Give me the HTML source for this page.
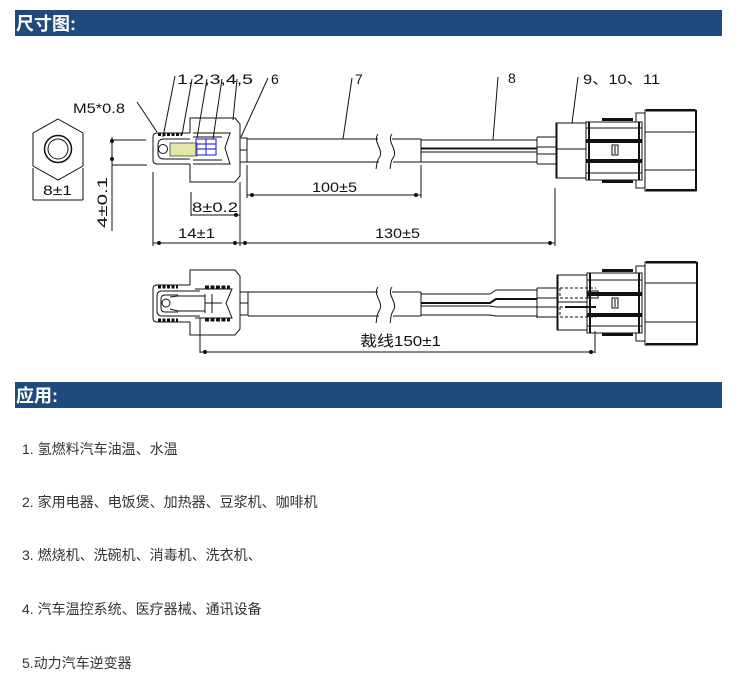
<!DOCTYPE html>
<html><head><meta charset="utf-8"><style>
html,body{margin:0;padding:0;background:#fff;}
svg{display:block;}
.t{font-family:"Liberation Sans","Noto Sans CJK SC",sans-serif;}
</style></head><body>
<svg width="749" height="697" viewBox="0 0 749 697" xmlns="http://www.w3.org/2000/svg">
<rect width="749" height="697" fill="#fff"/>
<!-- headers -->
<rect x="15" y="10" width="707" height="26" fill="#1f4a7c"/>
<text class="t" x="16" y="30" fill="#fff" font-size="18" font-weight="bold">尺寸图:</text>
<rect x="15" y="382" width="707" height="26" fill="#1f4a7c"/>
<text class="t" x="16" y="402" fill="#fff" font-size="18" font-weight="bold">应用:</text>

<!-- list -->
<g class="t" font-size="14" fill="#333">
<text x="22" y="454">1. 氢燃料汽车油温、水温</text>
<text x="22" y="507">2. 家用电器、电饭煲、加热器、豆浆机、咖啡机</text>
<text x="22" y="560">3. 燃烧机、洗碗机、消毒机、洗衣机、</text>
<text x="22" y="614">4. 汽车温控系统、医疗器械、通讯设备</text>
<text x="22" y="668">5.动力汽车逆变器</text>
</g>

<!-- ============ TOP DRAWING ============ -->
<g fill="none" stroke="#111" stroke-width="1">
<!-- hex nut front view -->
<polygon points="58,119 83,133 83,166 58,180 33,166 33,133"/>
<circle cx="58" cy="149" r="13.5" stroke-width="1.5"/>
<circle cx="58" cy="149" r="10"/>
<line x1="33" y1="168" x2="33" y2="200"/>
<line x1="83" y1="168" x2="83" y2="200"/>
<line x1="33" y1="200" x2="83" y2="200"/>

<!-- 4±0.1 dim -->
<line x1="112" y1="137" x2="112" y2="231"/>
<line x1="112" y1="140" x2="146" y2="140"/>
<line x1="112" y1="165" x2="147" y2="165"/>

<!-- M5 leader -->
<line x1="137" y1="102" x2="157" y2="132"/>

<!-- number leaders 1-5 -->
<line x1="175" y1="76" x2="163" y2="137"/>
<line x1="192" y1="79" x2="182" y2="135"/>
<line x1="207" y1="79" x2="197" y2="138"/>
<line x1="222" y1="79" x2="213" y2="139"/>
<line x1="237" y1="79" x2="233" y2="120"/>
<!-- 6,7,8,9 leaders -->
<line x1="268" y1="78" x2="241" y2="137"/>
<line x1="352" y1="78" x2="343" y2="139"/>
<line x1="498" y1="77" x2="493" y2="140"/>
<line x1="578" y1="77" x2="572" y2="123"/>

<!-- probe tip -->
<path d="M190,133 H157 Q153,133 153,137 V160 Q153,164 157,164 H190"/>
<path d="M190,139 H164 Q158,139 158,145 V153 Q158,159 164,159 H190"/>
<circle cx="163" cy="149" r="4.5"/>
<line x1="158" y1="134.5" x2="182" y2="134.5" stroke-width="3" stroke-dasharray="3 1.5"/>
<!-- housing -->
<path d="M190,133 V118 H235 L240,124 V176 L235,182 H190 V164"/>
<path d="M193,133 H230 L225,148 L230,164 H193"/>
<line x1="193" y1="137" x2="222" y2="137"/>
<line x1="193" y1="160" x2="222" y2="160"/>
<!-- collar -->
<rect x="240" y="138" width="7" height="24"/>
<line x1="240" y1="150" x2="247" y2="150"/>
</g>
<!-- coloured sensor element -->
<rect x="170" y="143" width="27" height="13" fill="#e4e6a6" stroke="#444" stroke-width="0.8"/>
<g fill="none" stroke="#3b3bc8" stroke-width="1.2">
<rect x="196" y="139" width="20" height="16"/>
<line x1="196" y1="144" x2="216" y2="144"/>
<line x1="196" y1="149" x2="216" y2="149"/>
<line x1="206" y1="139" x2="206" y2="155"/>
</g>

<g fill="none" stroke="#111" stroke-width="1">
<!-- cable 7 -->
<line x1="247" y1="139" x2="378" y2="139"/>
<line x1="392" y1="139" x2="421" y2="139"/>
<line x1="247" y1="162" x2="379" y2="162"/>
<line x1="393" y1="162" x2="421" y2="162"/>
<line x1="421" y1="139" x2="421" y2="162"/>
<path d="M378,134 C372,142 385,150 379,158 C376,162 377,166 376,169"/>
<path d="M392,134 C386,142 399,150 393,158 C390,162 391,166 390,169"/>
<!-- wires 8 -->
<line x1="421" y1="140" x2="537" y2="140"/>
<line x1="421" y1="148.5" x2="537" y2="148.5" stroke-width="2"/>
<line x1="421" y1="152" x2="537" y2="152"/>
<line x1="421" y1="162" x2="537" y2="162"/>
<line x1="537" y1="137" x2="537" y2="164"/>
<line x1="537" y1="137" x2="556" y2="137"/>
<line x1="537" y1="147" x2="556" y2="147"/>
<line x1="537" y1="154" x2="556" y2="154"/>
<line x1="537" y1="164" x2="556" y2="164"/>

<!-- connector body1 -->
<rect x="556" y="123" width="30" height="55"/>
<line x1="556.5" y1="123" x2="556.5" y2="178" stroke-width="2"/>
<line x1="556" y1="149" x2="586" y2="149"/>
<!-- body2 -->
<rect x="586" y="122" width="56" height="58"/>
<line x1="589" y1="122" x2="589" y2="180" stroke-width="2"/>
<line x1="639" y1="122" x2="639" y2="180" stroke-width="2"/>
<line x1="586" y1="128" x2="642" y2="128"/>
<line x1="586" y1="173" x2="642" y2="173"/>
<rect x="612" y="145" width="6" height="10"/>
<line x1="615" y1="146" x2="615" y2="154"/>
<!-- body3 -->
<path d="M636,122 V113 H645 V110 H696 V191 H645 V188 H636 V180"/>
<line x1="645" y1="113" x2="645" y2="188"/>
<line x1="645" y1="132" x2="696" y2="132"/>
<line x1="645" y1="170" x2="696" y2="170"/>
</g>
<g fill="#111">
<rect x="586" y="139" width="56" height="4"/>
<rect x="586" y="159" width="56" height="4"/>
<rect x="602" y="118" width="31" height="3"/>
<rect x="602" y="180" width="31" height="3"/>
<rect x="646" y="109" width="49" height="2.5"/>
<rect x="646" y="189" width="49" height="2.5"/>
<rect x="695" y="110" width="2" height="81"/>
</g>

<!-- top dimensions -->
<g fill="none" stroke="#111" stroke-width="1">
<line x1="247" y1="165" x2="247" y2="198"/>
<line x1="421" y1="165" x2="421" y2="198"/>
<line x1="247" y1="195" x2="421" y2="195"/>
<line x1="191" y1="192" x2="191" y2="216"/>
<line x1="191" y1="215" x2="240" y2="215"/>
<line x1="240" y1="182" x2="240" y2="246"/>
<line x1="153" y1="172" x2="153" y2="246"/>
<line x1="153" y1="243" x2="555" y2="243"/>
<line x1="555" y1="188" x2="555" y2="246"/>
</g>
<g fill="#111">
<circle cx="252" cy="195" r="2"/><circle cx="416" cy="195" r="2"/>
<circle cx="236" cy="215" r="2"/>
<circle cx="159" cy="243" r="2"/><circle cx="235" cy="243" r="2"/>
<circle cx="245" cy="243" r="2"/><circle cx="550" cy="243" r="2"/>
<circle cx="112" cy="141" r="2"/><circle cx="112" cy="159" r="2"/>
</g>

<!-- top labels -->
<g class="t" font-size="14" fill="#111">
<text x="73" y="113" textLength="52" lengthAdjust="spacingAndGlyphs">M5*0.8</text>
<text x="177" y="84" textLength="76" lengthAdjust="spacingAndGlyphs">1,2,3,4,5</text>
<text x="271" y="84">6</text>
<text x="355" y="84">7</text>
<text x="508" y="83">8</text>
<text x="583" y="84" textLength="77" lengthAdjust="spacingAndGlyphs">9、10、11</text>
<text x="43" y="195" textLength="29" lengthAdjust="spacingAndGlyphs">8±1</text>
<text x="312" y="192" textLength="45" lengthAdjust="spacingAndGlyphs">100±5</text>
<text x="192" y="212" textLength="46" lengthAdjust="spacingAndGlyphs">8±0.2</text>
<text x="178" y="238" textLength="37" lengthAdjust="spacingAndGlyphs">14±1</text>
<text x="375" y="238" textLength="45" lengthAdjust="spacingAndGlyphs">130±5</text>
<text transform="translate(107,228) rotate(-90)" x="0" y="0" textLength="51" lengthAdjust="spacingAndGlyphs">4±0.1</text>
</g>

<!-- ============ BOTTOM DRAWING ============ -->
<g fill="none" stroke="#111" stroke-width="1">
<!-- housing -->
<path d="M190,285 V270 H235 L240,276 V329 L235,335 H190 V322"/>
<!-- tip -->
<path d="M190,285 H157 Q153,285 153,289 V318 Q153,322 157,322 H190"/>
<path d="M200,291 H162 Q157,291 157,296 V311 Q157,316 162,316 H200"/>
<path d="M178,295 H165 Q161,295 161,299 V308 Q161,312 165,312 H178"/>
<circle cx="166" cy="303" r="4"/>
<path d="M170,297 L178,296 H205"/>
<path d="M170,309 L178,311 H205"/>
<line x1="158" y1="287" x2="178" y2="287" stroke-width="3" stroke-dasharray="3 1.5"/>
<line x1="158" y1="320" x2="178" y2="320" stroke-width="3" stroke-dasharray="3 1.5"/>
<!-- terminal -->
<path d="M195,289 H232 L226,303 L232,318 H195"/>
<line x1="205" y1="287" x2="230" y2="287" stroke-width="3" stroke-dasharray="4 1.5"/>
<line x1="205" y1="320" x2="230" y2="320" stroke-width="3" stroke-dasharray="4 1.5"/>
<line x1="205" y1="294" x2="205" y2="313"/>
<line x1="212" y1="294" x2="212" y2="313"/>
<line x1="205" y1="303" x2="222" y2="303"/>
<!-- collar -->
<rect x="240" y="292" width="8" height="23"/>
<line x1="240" y1="303" x2="248" y2="303"/>
<!-- cable -->
<line x1="248" y1="292" x2="378" y2="292"/>
<line x1="392" y1="292" x2="421" y2="292"/>
<line x1="248" y1="316" x2="379" y2="316"/>
<line x1="393" y1="316" x2="421" y2="316"/>
<line x1="421" y1="292" x2="421" y2="316"/>
<path d="M378,287 C372,295 385,303 379,311 C376,316 377,320 376,323"/>
<path d="M392,287 C386,295 399,303 393,311 C390,316 391,320 390,323"/>
<!-- wires -->
<path d="M421,294 H490 L496,290 H537"/>
<path d="M421,303 H490 L496,299 H537" stroke-width="2"/>
<path d="M421,306 H490 L496,307 H537"/>
<path d="M421,315 H490 L496,316 H537"/>
<line x1="537" y1="288" x2="537" y2="318"/>
<line x1="537" y1="288" x2="557" y2="288"/>
<line x1="537" y1="298" x2="557" y2="298"/>
<line x1="537" y1="307" x2="557" y2="307"/>
<line x1="537" y1="317" x2="557" y2="317"/>
<!-- body1 -->
<rect x="557" y="275" width="30" height="55"/>
<line x1="557.5" y1="275" x2="557.5" y2="330" stroke-width="2"/>
<line x1="557" y1="302" x2="587" y2="302"/>
<g stroke-dasharray="3 2">
<path d="M560,288 H596 M560,298 H596 M560,288 V298"/>
<path d="M560,307 H596 M560,317 H596 M560,307 V317"/>
</g>
<rect x="588" y="291" width="10" height="7"/>
<!-- body2 -->
<rect x="587" y="273" width="55" height="60"/>
<line x1="590" y1="273" x2="590" y2="333" stroke-width="2"/>
<line x1="639" y1="273" x2="639" y2="333" stroke-width="2"/>
<line x1="587" y1="280" x2="642" y2="280"/>
<line x1="587" y1="326" x2="642" y2="326"/>
<rect x="612" y="298" width="6" height="10"/>
<line x1="615" y1="299" x2="615" y2="307"/>
<!-- body3 -->
<path d="M636,273 V266 H645 V262 H697 V345 H645 V341 H636 V333"/>
<line x1="645" y1="266" x2="645" y2="341"/>
<line x1="645" y1="283" x2="697" y2="283"/>
<line x1="645" y1="322" x2="697" y2="322"/>
<!-- dimension -->
<line x1="200" y1="318" x2="200" y2="353"/>
<line x1="595" y1="331" x2="595" y2="353"/>
<line x1="200" y1="352" x2="595" y2="352"/>
</g>
<g fill="#111">
<rect x="587" y="292" width="55" height="4"/>
<rect x="587" y="313" width="55" height="4"/>
<rect x="602" y="269" width="31" height="3"/>
<rect x="602" y="333" width="31" height="3"/>
<rect x="646" y="261" width="50" height="2.5"/>
<rect x="646" y="343" width="50" height="2.5"/>
<rect x="696" y="262" width="2" height="83"/>
<rect x="565" y="306" width="31" height="2"/>
<circle cx="205" cy="352" r="2"/><circle cx="591" cy="352" r="2"/>
</g>
<text class="t" x="360" y="346" font-size="15" fill="#111" textLength="81" lengthAdjust="spacingAndGlyphs">裁线150±1</text>
</svg>
</body></html>
